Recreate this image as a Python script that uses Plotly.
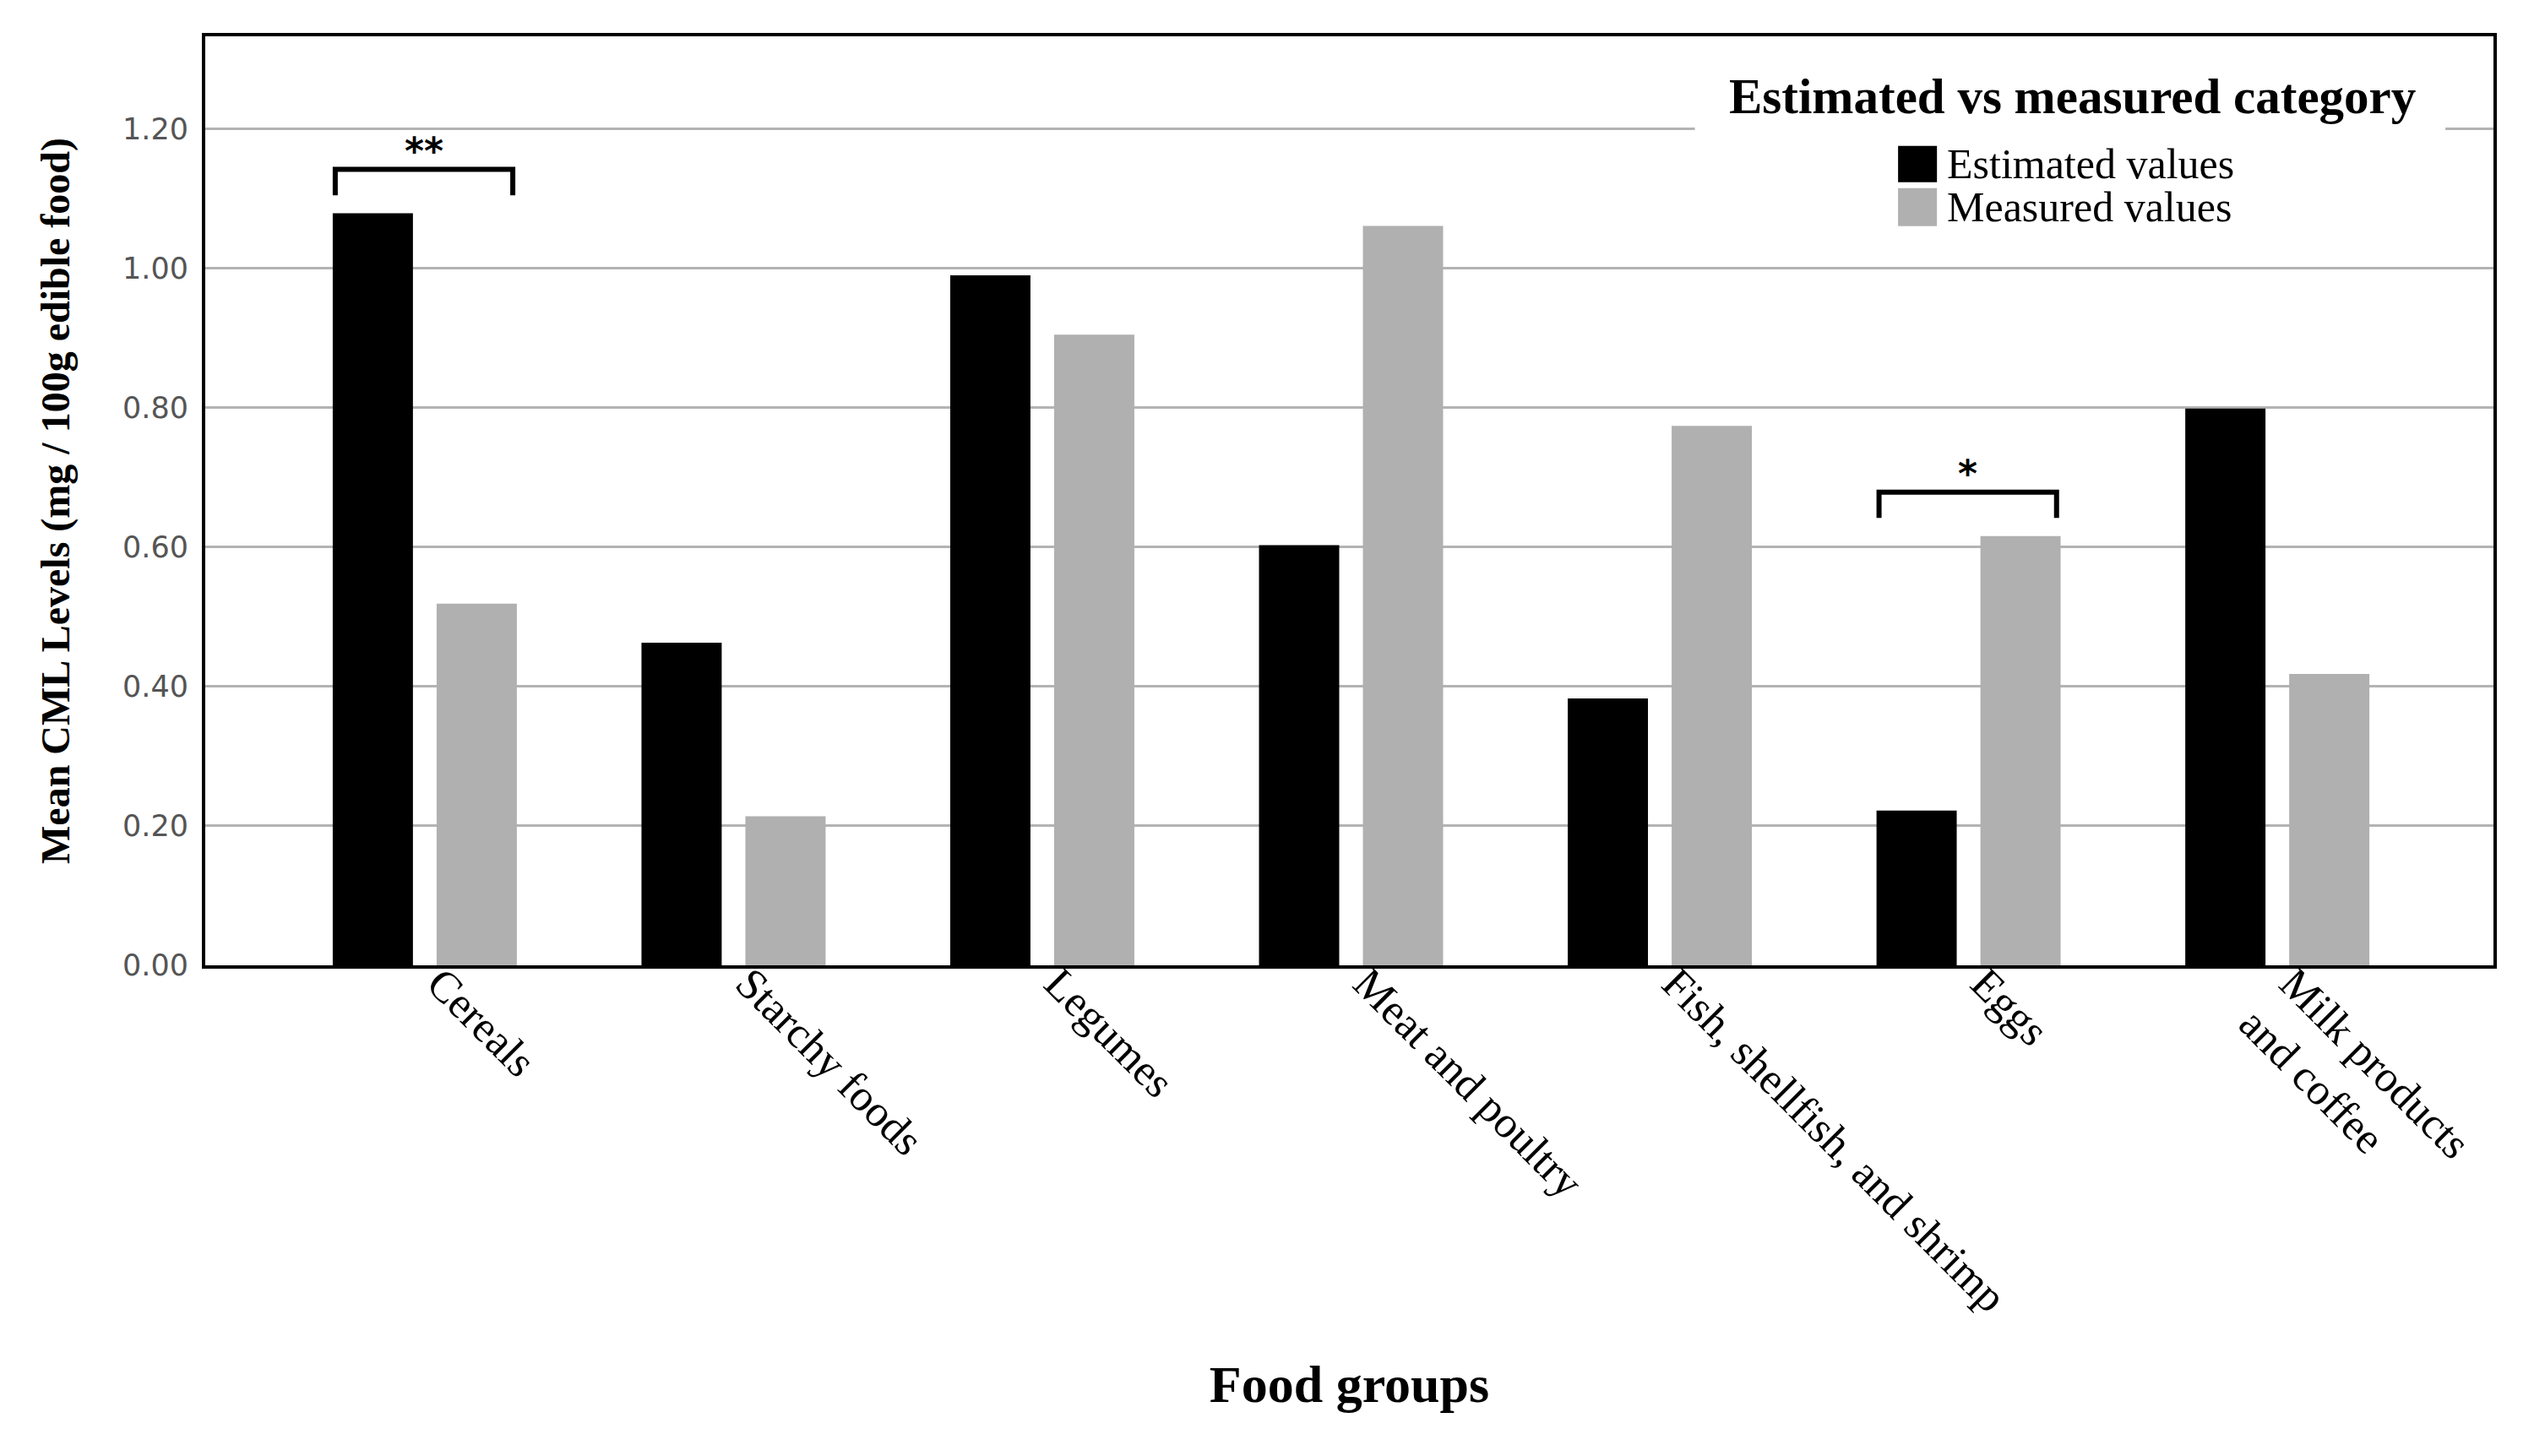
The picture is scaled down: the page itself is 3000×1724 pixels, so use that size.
import plotly.graph_objects as go

categories = ["Cereals", "Starchy foods", "Legumes", "Meat and poultry",
              "Fish, shellfish, and shrimp", "Eggs", "Milk products<br>and coffee"]
estimated = [1.079, 0.463, 0.990, 0.603, 0.383, 0.222, 0.799]
measured = [0.519, 0.214, 0.905, 1.061, 0.774, 0.616, 0.418]
series_names = ["Estimated values", "Measured values"]
series_colors = ["#000000", "#b0b0b0"]
y_ticks = [0.0, 0.2, 0.4, 0.6, 0.8, 1.0, 1.2]
significance = [("Cereals", "**"), ("Eggs", "*")]

SERIF = "Liberation Serif"
SANS = "DejaVu Sans"

fig = go.Figure()
for name, vals, col in zip(series_names, [estimated, measured], series_colors):
    fig.add_trace(go.Bar(x=categories, y=vals, name=name, marker_color=col,
                         marker_line_width=0, showlegend=False))

# significance brackets
for cat, stars in significance:
    i = categories.index(cat)
    top_val = max(estimated[i], measured[i])
    yb = top_val + 0.026
    yt = top_val + 0.063
    x0, x1 = i - 0.29, i + 0.285
    fig.add_shape(type="path", xref="x", yref="y",
                  path=f"M {x0},{yb} L {x0},{yt} L {x1},{yt} L {x1},{yb}",
                  line=dict(color="black", width=6))
    fig.add_annotation(x=(x0 + x1) / 2, y=yt + 0.027, xref="x", yref="y",
                       text=f"<b>{stars}</b>", showarrow=False, yanchor="middle",
                       font=dict(family="DejaVu Sans", size=44, color="black"))

# legend (drawn manually to match large swatches)
fig.add_shape(type="rect", xref="paper", yref="paper", x0=0.651, x1=0.979,
              y0=0.78, y1=0.969, fillcolor="white", line_width=0, layer="above")
fig.add_annotation(xref="paper", yref="paper", x=0.816, y=0.935,
                   text="<b>Estimated vs measured category</b>", showarrow=False,
                   xanchor="center", yanchor="middle",
                   font=dict(family=SERIF, size=59, color="black"))
legend_rows = [(0.843, 0.882, 0.863), (0.7956, 0.8365, 0.8165)]
for (y0, y1, yc), name, col in zip(legend_rows, series_names, series_colors):
    fig.add_shape(type="rect", xref="paper", yref="paper", x0=0.7398, x1=0.7568,
                  y0=y0, y1=y1, fillcolor=col, line_width=0, layer="above")
    fig.add_annotation(xref="paper", yref="paper", x=0.7604, y=yc, text=name,
                       showarrow=False, xanchor="left", yanchor="middle",
                       font=dict(family=SERIF, size=50, color="black"))

# page body adds an 8px offset; compensate so the plot area lands where the reference has it
fig.update_layout(
    width=2984, height=1708,
    margin=dict(l=235, r=40, t=35, b=573),
    plot_bgcolor="white", paper_bgcolor="white",
    barmode="group", bargap=0.327, bargroupgap=0.228,
    showlegend=False,
)
fig.update_xaxes(
    range=[-0.711, 6.70], tickangle=45, automargin=False,
    tickfont=dict(family=SERIF, size=52, color="black"),
    ticklabelstandoff=-34, ticklabelshift=18,
    showline=True, linecolor="black", linewidth=4, mirror=True,
    ticks="", showgrid=False,
    title=dict(text="<b>Food groups</b>", font=dict(family=SERIF, size=62, color="black"),
               standoff=54),
)
fig.update_yaxes(
    range=[0, 1.333], tickvals=y_ticks, tickformat=".2f", automargin=False,
    tickfont=dict(family=SANS, size=35, color="#555555"),
    showline=True, linecolor="black", linewidth=4, mirror=True,
    ticks="", ticklabelstandoff=9,
    showgrid=True, gridcolor="#b3b3b3", gridwidth=2.5, zeroline=False,
    title=dict(text="<b>Mean CML Levels (mg / 100g edible food)</b>",
               font=dict(family=SERIF, size=48, color="black"), standoff=48),
)
fig.write_html("out.html")
